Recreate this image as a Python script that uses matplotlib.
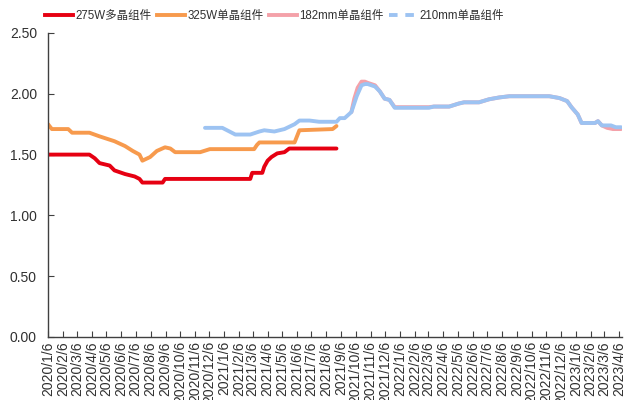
import matplotlib
matplotlib.use("Agg")
import matplotlib.pyplot as plt
from matplotlib.lines import Line2D
import pandas as pd

plt.rcParams['font.family'] = ['Liberation Sans', 'Noto Sans CJK SC', 'DejaVu Sans']

# ---- data ----
red_dates = ["2020-01-06", "2020-04-01", "2020-04-12", "2020-04-22", "2020-05-13", "2020-05-23",
             "2020-06-14", "2020-07-04", "2020-07-14", "2020-07-20", "2020-08-31", "2020-09-05",
             "2021-03-01", "2021-03-05", "2021-03-26", "2021-03-30", "2021-04-06", "2021-04-14",
             "2021-04-26", "2021-05-11", "2021-05-21", "2021-08-27"]
red_vals = [1.50, 1.50, 1.47, 1.43, 1.41, 1.37,
            1.34, 1.32, 1.30, 1.27, 1.27, 1.30,
            1.30, 1.35, 1.35, 1.40, 1.45, 1.48,
            1.51, 1.52, 1.55, 1.55]

orange_dates = ["2020-01-06", "2020-01-14", "2020-02-17", "2020-02-25", "2020-04-01", "2020-04-22",
                "2020-05-23", "2020-06-14", "2020-06-30", "2020-07-14", "2020-07-20", "2020-08-05",
                "2020-08-19", "2020-09-05", "2020-09-16", "2020-09-26", "2020-11-17", "2020-12-07",
                "2021-03-09", "2021-03-15", "2021-03-20", "2021-06-01", "2021-06-11", "2021-08-19",
                "2021-08-27"]
orange_vals = [1.75, 1.71, 1.71, 1.68, 1.68, 1.65,
               1.61, 1.57, 1.53, 1.50, 1.45, 1.48,
               1.53, 1.56, 1.55, 1.52, 1.52, 1.545,
               1.545, 1.58, 1.60, 1.60, 1.70, 1.71,
               1.735]

pink_dates = ["2021-09-27", "2021-10-03", "2021-10-10", "2021-10-18", "2021-10-25", "2021-10-31",
              "2021-11-15", "2021-11-25", "2021-12-05", "2021-12-15", "2021-12-26", "2022-03-07",
              "2022-03-17", "2022-04-18", "2022-05-08", "2022-05-19", "2022-06-19", "2022-07-10",
              "2022-07-31", "2022-08-21", "2022-11-12", "2022-12-03", "2022-12-19", "2022-12-28",
              "2023-01-10", "2023-01-18", "2023-02-15", "2023-02-21", "2023-03-01", "2023-03-12",
              "2023-03-24", "2023-04-10"]
pink_vals = [1.85, 1.96, 2.05, 2.10, 2.10, 2.09,
             2.07, 2.02, 1.96, 1.95, 1.89, 1.89,
             1.895, 1.895, 1.92, 1.93, 1.93, 1.955,
             1.97, 1.98, 1.98, 1.965, 1.94, 1.89,
             1.83, 1.76, 1.76, 1.775, 1.74, 1.72,
             1.71, 1.71]

blue_dates = ["2020-11-27", "2021-01-02", "2021-01-29", "2021-03-01", "2021-03-20", "2021-03-30",
              "2021-04-20", "2021-05-11", "2021-06-01", "2021-06-11", "2021-07-02", "2021-07-22",
              "2021-08-27", "2021-09-03", "2021-09-13", "2021-09-27", "2021-10-08", "2021-10-18",
              "2021-10-25", "2021-10-31", "2021-11-15", "2021-11-25", "2021-12-05", "2021-12-15",
              "2021-12-26", "2022-03-07", "2022-03-17", "2022-04-18", "2022-05-08", "2022-05-19",
              "2022-06-19", "2022-07-10", "2022-07-31", "2022-08-21", "2022-11-12", "2022-12-03",
              "2022-12-19", "2022-12-28", "2023-01-10", "2023-01-18", "2023-02-15", "2023-02-21",
              "2023-03-01", "2023-03-20", "2023-03-30", "2023-04-10"]
blue_vals = [1.72, 1.72, 1.665, 1.665, 1.69, 1.70,
             1.69, 1.71, 1.75, 1.78, 1.78, 1.77,
             1.77, 1.80, 1.80, 1.85, 1.98, 2.07,
             2.08, 2.08, 2.06, 2.02, 1.96, 1.95,
             1.885, 1.885, 1.895, 1.895, 1.92, 1.93,
             1.93, 1.955, 1.97, 1.98, 1.98, 1.965,
             1.94, 1.89, 1.83, 1.76, 1.76, 1.775,
             1.74, 1.74, 1.725, 1.725]

series = [
    ("275W多晶组件", red_dates, red_vals, "#E60012"),
    ("325W单晶组件", orange_dates, orange_vals, "#F79A4D"),
    ("182mm单晶组件", pink_dates, pink_vals, "#F4A1A9"),
    ("210mm单晶组件", blue_dates, blue_vals, "#9DC3F2"),
]

tick_dates = pd.date_range("2020-01-01", "2023-04-01", freq="MS") + pd.Timedelta(days=5)
tick_labels = [f"{d.year}/{d.month}/{d.day}" for d in tick_dates]

fig = plt.figure(figsize=(6.35, 4.0), dpi=100)
ax = fig.add_axes([0.0756, 0.1575, 0.904, 0.76])

handles = []
for name, ds, vs, col in series:
    ax.plot(pd.to_datetime(ds), vs, color=col, lw=2.8, solid_capstyle='round',
            solid_joinstyle='round')
    if name.startswith("210"):
        handles.append(Line2D([], [], color=col, lw=2.8, linestyle=(0, (2.2, 2.0))))
    else:
        handles.append(Line2D([], [], color=col, lw=2.8))

ax.set_ylim(0, 2.5)
ax.set_yticks([0, 0.5, 1.0, 1.5, 2.0, 2.5])
ax.set_yticklabels(["0.00", "0.50", "1.00", "1.50", "2.00", "2.50"])
ax.set_xlim(pd.Timestamp("2020-01-06"), pd.Timestamp("2023-04-12"))
ax.set_xticks(tick_dates)
ax.set_xticklabels(tick_labels, rotation=90)

for s in ["top", "right"]:
    ax.spines[s].set_visible(False)
for s in ["left", "bottom"]:
    ax.spines[s].set_color("#404040")
    ax.spines[s].set_linewidth(1.0)
ax.tick_params(axis='both', direction='in', length=4, color="#404040",
               labelsize=10, labelcolor="#303030")
ax.tick_params(axis='y', pad=8)
ax.tick_params(axis='x', pad=3)

fig.legend(handles, [s[0] for s in series], loc='upper left', bbox_to_anchor=(0.055, 1.0),
           ncol=4, frameon=False, fontsize=8.3, handlelength=2.4, handletextpad=0.2,
           columnspacing=0.5, labelcolor="#303030")

fig.savefig("out.png", dpi=100, facecolor="white")
